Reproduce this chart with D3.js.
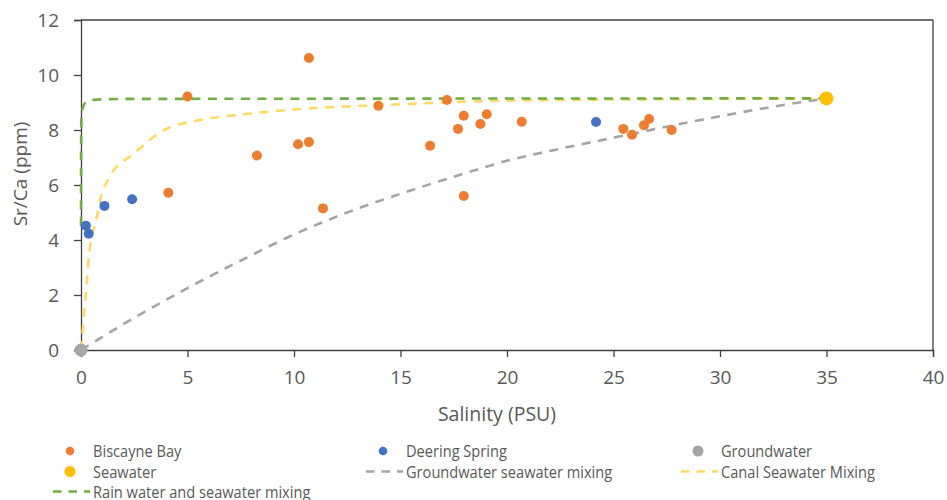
<!DOCTYPE html>
<html>
<head>
<meta charset="utf-8">
<script src="https://cdn.jsdelivr.net/npm/d3@7"></script>
<style>
  html, body { margin: 0; padding: 0; background: #fff; }
  svg { display: block; }
</style>
</head>
<body>
<svg id="chart" width="947" height="500"></svg>
<script>
// Salinity (PSU) vs Sr/Ca (ppm) samples
const biscayneBay = [
  [5.0, 9.22], [10.7, 10.62], [8.26, 7.07], [10.19, 7.48], [10.7, 7.56],
  [4.1, 5.72], [13.96, 8.88], [17.18, 9.09], [17.97, 8.52], [17.7, 8.04],
  [19.05, 8.57], [18.75, 8.22], [20.69, 8.3], [16.39, 7.43], [17.97, 5.6],
  [11.36, 5.15], [25.46, 8.04], [25.87, 7.83], [26.43, 8.17], [26.67, 8.4],
  [27.73, 8.0]
];
const deeringSpring = [[0.23, 4.52], [0.36, 4.23], [1.1, 5.24], [2.4, 5.48], [24.18, 8.29]];
const groundwater = [[0, 0]];
const seawater = [[35, 9.15]];

// Mixing curves
const gwSeawaterMixing = [
  [0, 0], [2.5, 1.17], [5, 2.25], [7.5, 3.25], [10, 4.2], [12.5, 5.0], [15, 5.68],
  [17.5, 6.3], [20, 6.88], [22.5, 7.32], [25, 7.72], [27.5, 8.12], [30, 8.5],
  [32.5, 8.85], [35, 9.15]
];
const canalSeawaterMixing = [
  [0, 0], [0.2, 1.8], [0.4, 3.6], [0.75, 4.85], [0.9, 5.45], [1.35, 6.3],
  [2.5, 7.15], [3.9, 8.0], [5.6, 8.36], [8, 8.6], [11, 8.8], [14, 8.9],
  [18, 9.03], [22, 9.09], [28, 9.12], [35, 9.15]
];
const rainSeawaterMixing = [
  [0, 4.5], [0.005, 7.5], [0.02, 8.45], [0.1, 8.85], [0.25, 9.02], [0.6, 9.1],
  [2, 9.13], [35, 9.15]
];

const xTicks = [0, 5, 10, 15, 20, 25, 30, 35, 40];
const yTicks = [0, 2, 4, 6, 8, 10, 12];

const colors = {
  bay: "#ED7D31", spring: "#4472C4", gw: "#A5A5A5", sea: "#FFC000",
  gwLine: "#A5A5A5", canalLine: "#FFD966", rainLine: "#70AD47"
};

const svg = d3.select("#chart");
const x = d3.scaleLinear().domain([0, 40]).range([81, 933]);
const y = d3.scaleLinear().domain([0, 12]).range([350, 20]);
const axisColor = "#404040";
const textColor = "#595959";
const font = "'Open Sans', sans-serif";

// Frame (top and right borders)
svg.append("line").attr("x1", x(0)).attr("x2", x(40)).attr("y1", y(12)).attr("y2", y(12))
  .attr("stroke", axisColor).attr("stroke-width", 1.3);
svg.append("line").attr("x1", x(40)).attr("x2", x(40)).attr("y1", y(12)).attr("y2", y(0))
  .attr("stroke", axisColor).attr("stroke-width", 1.3);

// Axes
const xAxis = d3.axisBottom(x).tickValues(xTicks).tickSize(7).tickPadding(14).tickFormat(d3.format("d"));
const yAxis = d3.axisLeft(y).tickValues(yTicks).tickSize(7).tickPadding(14).tickFormat(d3.format("d"));

const gx = svg.append("g").attr("transform", `translate(0,${y(0)})`).call(xAxis);
const gy = svg.append("g").attr("transform", `translate(${x(0)},0)`).call(yAxis);
[gx, gy].forEach(g => {
  g.select(".domain").attr("stroke", axisColor).attr("stroke-width", 1.3);
  g.selectAll(".tick line").attr("stroke", axisColor).attr("stroke-width", 1.3);
  g.selectAll(".tick text").attr("fill", textColor).style("font-family", font).style("font-size", "19px");
});
gy.selectAll(".tick text").attr("dx", "-0.05em");

// Axis titles
svg.append("text").attr("x", 497).attr("y", 421).attr("text-anchor", "middle")
  .attr("fill", textColor).style("font-family", font).style("font-size", "19.5px")
  .text("Salinity (PSU)");
svg.append("text").attr("transform", "translate(27,174) rotate(-90)").attr("text-anchor", "middle")
  .attr("fill", textColor).style("font-family", font).style("font-size", "19px")
  .text("Sr/Ca (ppm)");

// Mixing lines
const line = d3.line().x(d => x(d[0])).y(d => y(d[1])).curve(d3.curveMonotoneX);
const dash = "9,7.5";
[[gwSeawaterMixing, colors.gwLine], [canalSeawaterMixing, colors.canalLine], [rainSeawaterMixing, colors.rainLine]]
  .forEach(([data, c]) => {
    svg.append("path").datum(data).attr("d", line).attr("fill", "none")
      .attr("stroke", c).attr("stroke-width", 2.6).attr("stroke-dasharray", dash);
  });

// Sample points
function dots(data, color, r) {
  svg.append("g").selectAll("circle").data(data).join("circle")
    .attr("cx", d => x(d[0])).attr("cy", d => y(d[1])).attr("r", r).attr("fill", color);
}
dots(biscayneBay, colors.bay, 5);
dots(deeringSpring, colors.spring, 5);
dots(groundwater, colors.gw, 6.5);
dots(seawater, colors.sea, 7);

// Legend (text narrowed horizontally for a condensed look)
const legendItems = [
  { label: "Biscayne Bay", type: "dot", color: colors.bay, r: 4.3, col: 0, row: 0 },
  { label: "Deering Spring", type: "dot", color: colors.spring, r: 4.3, col: 1, row: 0 },
  { label: "Groundwater", type: "dot", color: colors.gw, r: 5.5, col: 2, row: 0 },
  { label: "Seawater", type: "dot", color: colors.sea, r: 5.5, col: 0, row: 1 },
  { label: "Groundwater seawater mixing", type: "line", color: colors.gwLine, col: 1, row: 1 },
  { label: "Canal Seawater Mixing", type: "line", color: colors.canalLine, col: 2, row: 1 },
  { label: "Rain water and seawater mixing", type: "line", color: colors.rainLine, col: 0, row: 2 }
];
const colText = [93, 406, 721];
const rowY = [451, 471.5, 491.5];
const narrow = 0.86;
const legend = svg.append("g");
legendItems.forEach(it => {
  const tx = colText[it.col], cy = rowY[it.row];
  if (it.type === "dot") {
    legend.append("circle").attr("cx", tx - 23).attr("cy", cy).attr("r", it.r).attr("fill", it.color);
  } else {
    legend.append("line").attr("x1", tx - 40).attr("x2", tx - 3).attr("y1", cy).attr("y2", cy)
      .attr("stroke", it.color).attr("stroke-width", 2.4).attr("stroke-dasharray", "8.5,7");
  }
  legend.append("text")
    .attr("transform", `translate(${tx},${cy + 6}) scale(${narrow},1)`)
    .attr("fill", textColor).style("font-family", font).style("font-size", "17px")
    .text(it.label);
});
</script>
</body>
</html>
